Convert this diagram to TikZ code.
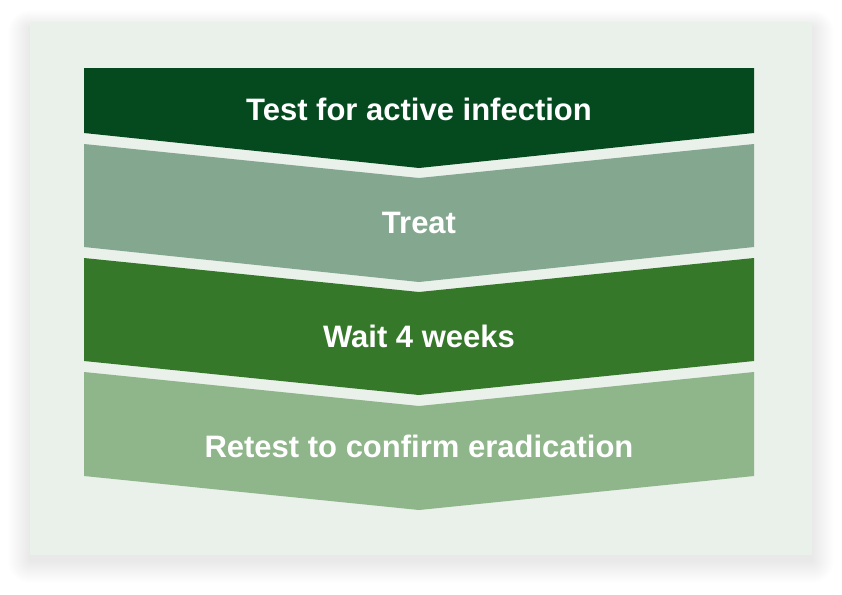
\documentclass[tikz,border=0pt]{standalone}
\usepackage{fontspec}
\setmainfont{Liberation Sans}
\usepackage{xcolor}
\usepackage{tikz}
\usetikzlibrary{positioning}
\definecolor{hpdark}{RGB}{5,74,31}
\definecolor{hpsage}{RGB}{132,167,144}
\definecolor{hpgreen}{RGB}{53,120,42}
\definecolor{hplight}{RGB}{143,181,138}
\definecolor{hppanel}{RGB}{234,241,234}
\tikzset{
  panel/.style={fill=hppanel, draw=none},
  band/.style={draw=none},
  steplabel/.style={anchor=base, text=white, font=\bfseries\fontsize{31}{36}\selectfont, inner sep=0pt}
}
\begin{document}
\begin{tikzpicture}[x=1pt, y=-1pt]
\useasboundingbox (0,0) rectangle (842,594);
% soft shadow round the panel
\foreach \s in {1,...,22}
  \fill[black, opacity=0.0035, rounded corners=\s pt] (30-\s,22-0.8*\s+6) rectangle (812+\s,555+\s+6);
\fill[panel] (30,22) rectangle (812,555);
% the four chevron bands
\fill[band, fill=hpdark] (84,68) -- (754,68) -- (754,133) -- (419,168) -- (84,133) -- cycle;
\fill[band, fill=hpsage] (84,144) -- (419,178) -- (754,144) -- (754,247) -- (419,282) -- (84,247) -- cycle;
\fill[band, fill=hpgreen] (84,258) -- (419,292) -- (754,258) -- (754,361) -- (419,395) -- (84,361) -- cycle;
\fill[band, fill=hplight] (84,372) -- (419,406) -- (754,372) -- (754,476) -- (419,510) -- (84,476) -- cycle;
\node[steplabel] (test) at (419,120) {Test for active infection};
\node[steplabel] (treat) at (419,233) {Treat};
\node[steplabel] (wait) at (419,347) {Wait 4 weeks};
\node[steplabel] (retest) at (419,457) {Retest to confirm eradication};
\end{tikzpicture}
\end{document}
